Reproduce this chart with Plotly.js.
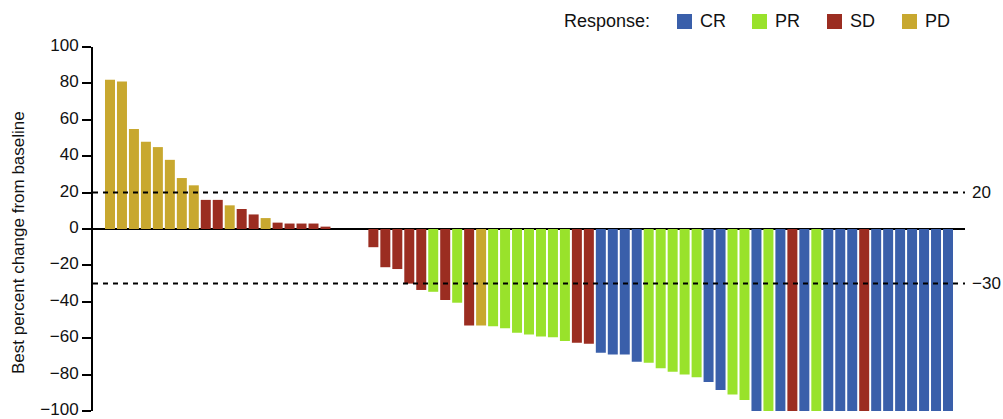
<!DOCTYPE html>
<html>
<head>
<meta charset="utf-8">
<script src="https://cdn.plot.ly/plotly-3.0.1.min.js"></script>
<style>html,body{margin:0;padding:0;background:#fff;}#chart{width:1003px;height:419px;}</style>
</head>
<body>
<div id="chart"></div>
<script>
// Best percent change from baseline, one entry per patient (ordered as in the waterfall)
const values = [
  82, 81, 55, 48, 45, 38, 28, 24, 16, 16,
  13, 11, 8, 6, 3.5, 3, 3, 3, 1.3, 0,
  0, 0, -10, -21, -22, -30, -33.5, -34.5, -39, -40.5,
  -53, -53, -53.5, -54.5, -57, -58, -59, -59.5, -61.5, -62.5,
  -63, -68, -69, -69, -73, -73.5, -76.5, -78.5, -80, -81.5,
  -84, -88.5, -91, -94, -100, -100, -100, -100, -100, -100,
  -100, -100, -100, -100, -100, -100, -100, -100, -100, -100,
  -100
];
const responses = [
  'PD','PD','PD','PD','PD','PD','PD','PD','SD','SD',
  'PD','SD','SD','PD','SD','SD','SD','SD','SD','SD',
  'SD','SD','SD','SD','SD','SD','SD','PR','SD','PR',
  'SD','PD','PR','PR','PR','PR','PR','PR','PR','SD',
  'SD','CR','CR','CR','CR','PR','PR','PR','PR','PR',
  'CR','CR','PR','PR','CR','PR','CR','SD','CR','PR',
  'CR','CR','CR','SD','CR','CR','CR','CR','CR','CR',
  'CR'
];
const categories = ['CR', 'PR', 'SD', 'PD'];
const categoryColors = ['#3a5faa', '#99e22b', '#9b2d21', '#c8a82f'];
const thresholds = [20, -30];
const thresholdLabels = ['20', '\u221230'];
const yTickVals = [-100, -80, -60, -40, -20, 0, 20, 40, 60, 80, 100];
const yTickText = ['\u2212100', '\u221280', '\u221260', '\u221240', '\u221220', '0', '20', '40', '60', '80', '100'];
const yTitle = 'Best percent change from baseline';

const FONT = 'Arial, "Liberation Sans", Helvetica, sans-serif';
const W = 1003, H = 419;
const M = {l: 93, r: 38, t: 47, b: 8};
const pw = W - M.l - M.r, ph = H - M.t - M.b;
const pxX = px => (px - M.l) / pw;
const pxY = py => 1 - (py - M.t) / ph;

const xs = values.map((v, i) => i + 1);
const colorOf = r => categoryColors[categories.indexOf(r)];

const trace = {
  type: 'bar',
  x: xs,
  y: values,
  marker: {color: responses.map(colorOf), line: {width: 0}},
  width: 0.835,
  showlegend: false,
  hoverinfo: 'x+y'
};

const shapes = thresholds.map(t => ({
  type: 'line', xref: 'paper', yref: 'y', x0: 0, x1: 1, y0: t, y1: t,
  line: {color: '#000', width: 2, dash: '5px,5px'}
}));
const annotations = thresholds.map((t, i) => ({
  xref: 'paper', yref: 'y', x: 1, y: t, xanchor: 'left', yanchor: 'middle',
  xshift: 5, text: thresholdLabels[i], showarrow: false,
  font: {family: FONT, size: 17, color: '#111'}
}));

// y-axis title
annotations.push({
  xref: 'paper', yref: 'paper', x: pxX(18), y: pxY(243), xanchor: 'center', yanchor: 'middle',
  textangle: -90, text: yTitle, showarrow: false, font: {family: FONT, size: 17, color: '#111'}
});

// custom legend
annotations.push({
  xref: 'paper', yref: 'paper', x: pxX(562), y: pxY(21), xanchor: 'left', yanchor: 'middle',
  text: 'Response:', showarrow: false, font: {family: FONT, size: 18, color: '#111'}
});
categories.forEach((c, i) => {
  const left = 677 + i * 75;
  shapes.push({
    type: 'rect', xref: 'paper', yref: 'paper',
    x0: pxX(left), x1: pxX(left + 15), y0: pxY(29), y1: pxY(14),
    fillcolor: categoryColors[i], line: {width: 0}
  });
  annotations.push({
    xref: 'paper', yref: 'paper', x: pxX(left + 21), y: pxY(21), xanchor: 'left', yanchor: 'middle',
    text: c, showarrow: false, font: {family: FONT, size: 18, color: '#111'}
  });
});

const layout = {
  width: W, height: H,
  margin: M,
  paper_bgcolor: '#fff', plot_bgcolor: '#fff',
  font: {family: FONT, size: 16, color: '#111'},
  bargap: 0.165,
  xaxis: {
    range: [-0.42, 72.42], visible: false, showgrid: false, zeroline: false, fixedrange: true
  },
  yaxis: {
    range: [-100, 100], tickmode: 'array', tickvals: yTickVals, ticktext: yTickText, showgrid: false,
    showline: true, linecolor: '#000', linewidth: 2,
    ticks: 'outside', ticklen: 9, tickwidth: 2, tickcolor: '#000',
    zeroline: true, zerolinecolor: '#000', zerolinewidth: 2,
    tickfont: {family: FONT, size: 17, color: '#111'},
    ticklabeloverflow: 'allow', ticklabelshift: -2,
    automargin: false, fixedrange: true
  },
  shapes: shapes,
  annotations: annotations
};

Plotly.newPlot('chart', [trace], layout, {displayModeBar: false, staticPlot: true});
</script>
</body>
</html>
